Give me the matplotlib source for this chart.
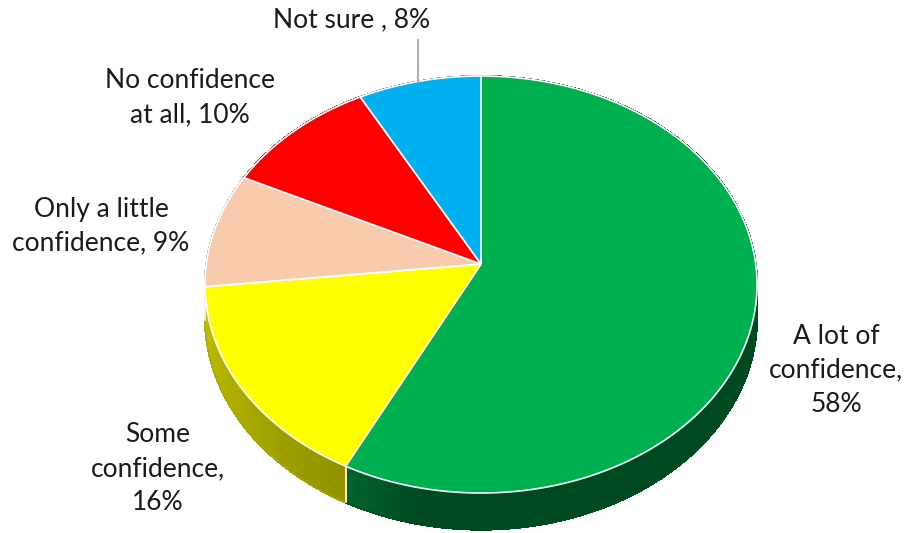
import numpy as np
import matplotlib
matplotlib.use("Agg")
import matplotlib.pyplot as plt
from matplotlib.patches import Polygon
from matplotlib.colors import to_rgb

# Survey answers, in clockwise order from 12 o'clock
categories = ["A lot of\nconfidence,", "Some\nconfidence,", "Only a little\nconfidence,",
              "No confidence\nat all,", "Not sure ,"]
values = [58, 16, 9, 10, 8]
colors = ["#00B050", "#FFFF00", "#F8CBAD", "#FF0000", "#00B0F0"]

# Perspective pie geometry (pixel space)
CX, CY = 481.0, 264.0
A, B = 274.7, 206.5
K = 0.0983
DEPTH = 33.0


def project(theta, r=1.0, h=0.0):
    """theta: clockwise angle from top (radians) on the unit disk."""
    u = r * np.sin(theta)
    v = -r * np.cos(theta)
    w = 1.0 - K * v
    return CX + A * u / w, CY + B * v / w + h / w


fig = plt.figure(figsize=(9.12, 5.33), dpi=100)
ax = fig.add_axes([0, 0, 1, 1])
ax.set_xlim(0, 912)
ax.set_ylim(533, 0)
ax.axis("off")

total = float(sum(values))
bounds = np.concatenate([[0], np.cumsum(values)]) / total * 2 * np.pi


def shade(theta):
    deg = np.degrees(theta) % 360
    return np.interp(deg, [90, 192, 207, 270], [0.42, 0.42, 0.57, 0.78])


# Outer side walls, drawn first so the top faces hide the back portion
for i, c in enumerate(colors):
    t0, t1 = bounds[i], bounds[i + 1]
    ts = np.linspace(t0, t1, max(int((t1 - t0) * 120), 4))
    base = np.array(to_rgb(c))
    for a, b in zip(ts[:-1], ts[1:]):
        xa, ya = project(a)
        xb, yb = project(b)
        xa2, ya2 = project(a, h=DEPTH)
        xb2, yb2 = project(b, h=DEPTH)
        col = base * shade(0.5 * (a + b))
        ax.add_patch(Polygon([(xa, ya), (xb, yb), (xb2, yb2), (xa2, ya2)],
                             closed=True, facecolor=col, edgecolor=col,
                             linewidth=0.8, antialiased=False, zorder=1))
    # soft outline along the bottom rim of the wall
    xs2, ys2 = project(ts, h=DEPTH)
    ax.plot(xs2, ys2, color=base * shade(0.5 * (t0 + t1)), lw=0.8, zorder=1.5)
    # white seam at slice boundary on the wall
    x1, y1 = project(t0)
    x2, y2 = project(t0, h=DEPTH)
    if -np.cos(t0) > 0.1:
        ax.plot([x1, x2], [y1, y2], color="white", lw=1.2, zorder=2)

# Top faces
for i, c in enumerate(colors):
    t0, t1 = bounds[i], bounds[i + 1]
    ts = np.linspace(t0, t1, max(int((t1 - t0) * 120), 4))
    xs, ys = project(ts)
    pts = [(CX, CY)] + list(zip(xs, ys))
    ax.add_patch(Polygon(pts, closed=True, facecolor=c, edgecolor="white",
                         linewidth=1.2, joinstyle="round", zorder=3))

# Labels
font = dict(family="Lato", fontsize=19, color="#1a1a1a", ha="center", va="center",
            linespacing=1.45, zorder=5)
label_pos = [(836, 370), (158, 469), (101, 226), (190, 98), (352, 20)]
for name, val, (lx, ly) in zip(categories, values, label_pos):
    sep = "\n" if name.startswith("A lot") or name.startswith("Some") else " "
    ax.text(lx, ly, f"{name}{sep}{val}%", **font)

# Leader line for the small top slice
ax.plot([418, 418], [40, 82], color="#a6a6a6", lw=1.3, zorder=4)

fig.savefig("out.png", dpi=100)
